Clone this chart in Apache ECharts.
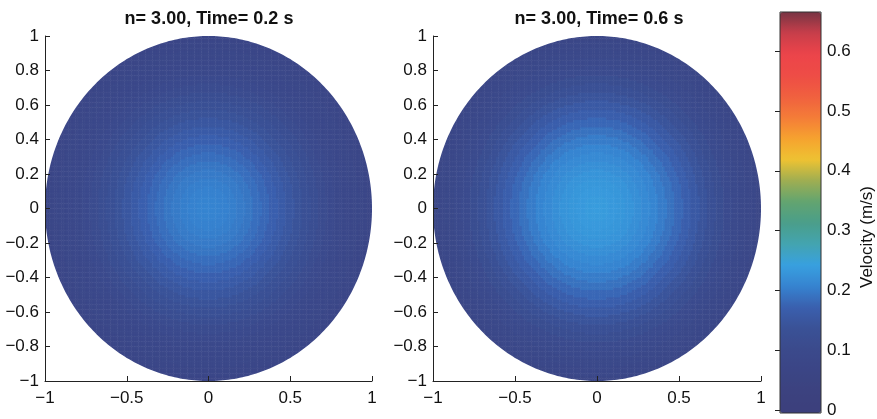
<!DOCTYPE html>
<html>
<head>
<meta charset="utf-8">
<script src="https://cdn.jsdelivr.net/npm/echarts@6/dist/echarts.min.js"></script>
<style>
  html, body { margin: 0; padding: 0; background: #fff; }
  #chart { width: 877px; height: 419px; }
</style>
</head>
<body>
<div id="chart"></div>
<script>
const RADII = [0, 0.05, 0.1, 0.15, 0.2, 0.25, 0.3, 0.35, 0.4, 0.45, 0.5,
               0.55, 0.6, 0.65, 0.7, 0.75, 0.8, 0.85, 0.9, 0.95, 1.0]
// velocity (m/s) along the radius, t = 0.2 s and t = 0.6 s
const VEL_T02 = [0.212, 0.211, 0.209, 0.206, 0.202, 0.197, 0.190, 0.183, 0.175, 0.165, 0.155,
                 0.145, 0.135, 0.125, 0.115, 0.107, 0.100, 0.094, 0.088, 0.083, 0.078]
const VEL_T06 = [0.240, 0.239, 0.237, 0.234, 0.230, 0.225, 0.219, 0.212, 0.203, 0.193, 0.183,
                 0.172, 0.160, 0.147, 0.135, 0.123, 0.112, 0.103, 0.095, 0.088, 0.082]
const TITLES = ['n= 3.00, Time= 0.2 s', 'n= 3.00, Time= 0.6 s']
const VEL_MAX = 0.665
// printed-jet colour scale, evenly spaced from 0 to VEL_MAX
const JET_COLORS = ['#3c3f7c', '#3c427f', '#3b4585', '#3b4a8c', '#3a5196', '#3a5fae', '#3683d0',
                    '#38a0df', '#43a4b0', '#4a9e8a', '#62a470', '#9eae52', '#eec232', '#f6a22f',
                    '#f47c38', '#f0603f', '#ee4c46', '#ec444a', '#c83e4a', '#783444']
const N = 140 // cells across the pipe section

const FONT = '"Liberation Sans", Arial, sans-serif'
const idx = Array.from({ length: N }, (_, i) => i)

// sample the cross-section: each cell takes the reading at its nearest radius
// (a little past the wall; the white mask below trims the edge smoothly)
function buildField(profile) {
  const cells = []
  const step = RADII[1] - RADII[0]
  const last = RADII.length - 1
  for (let i = 0; i < N; i++) {
    const x = -1 + (i + 0.5) * 2 / N
    for (let j = 0; j < N; j++) {
      const y = -1 + (j + 0.5) * 2 / N
      const r = Math.sqrt(x * x + y * y)
      if (r > 1 + 3 / N) continue
      cells.push([i, j, profile[Math.min(last, Math.round(r / step))]])
    }
  }
  return cells
}

const minus = v => String(v).replace('-', '\u2212')
const tickStyle = { inside: true, length: 5, lineStyle: { color: '#222' } }
const lineStyle = { lineStyle: { color: '#222', width: 1 } }
const labelStyle = { color: '#111', fontSize: 17, fontFamily: FONT }

const grids = [
  { left: 45, top: 36, width: 327, height: 345 },
  { left: 433, top: 36, width: 328, height: 345 },
  { left: 780, top: 12, width: 41, height: 401 },
]

const catAxis = g => ({ type: 'category', gridIndex: g, data: idx, show: false })
const valX = g => ({
  type: 'value', gridIndex: g, min: -1, max: 1, interval: 0.5, position: 'bottom',
  axisLine: lineStyle, axisTick: tickStyle, splitLine: { show: false },
  axisLabel: { ...labelStyle, margin: 9, formatter: minus },
  z: 5,
})
const valY = g => ({
  type: 'value', gridIndex: g, min: -1, max: 1, interval: 0.2, position: 'left',
  axisLine: lineStyle, axisTick: tickStyle, splitLine: { show: false },
  axisLabel: { ...labelStyle, margin: 6, formatter: v => minus(+v.toFixed(1)) },
  z: 5,
})

const fixedGraphics = [
  ...TITLES.map((t, k) => ({
    id: 'title' + k, type: 'text', x: k === 0 ? 209 : 599, y: 19,
    style: { text: t, font: `bold 18px ${FONT}`, fill: '#111', align: 'center', verticalAlign: 'middle' },
  })),
  {
    id: 'cbarFrame', type: 'rect', shape: { x: 780, y: 12, width: 41, height: 401 },
    style: { fill: 'none', stroke: '#333', lineWidth: 1 }, z: 100,
  },
  {
    id: 'cbarName', type: 'text', x: 867, y: 237, rotation: Math.PI / 2,
    style: { text: 'Velocity (m/s)', font: `17px ${FONT}`, fill: '#111', align: 'center', verticalAlign: 'middle' },
  },
]

const option = {
  backgroundColor: '#fff',
  animation: false,
  grid: grids,
  xAxis: [
    catAxis(0), valX(0), catAxis(1), valX(1),
    { type: 'value', gridIndex: 2, min: 0, max: 1, show: false },
  ],
  yAxis: [
    catAxis(0), valY(0), catAxis(1), valY(1),
    {
      type: 'value', gridIndex: 2, min: 0, max: VEL_MAX, interval: 0.1, position: 'right',
      axisLine: { show: false }, splitLine: { show: false },
      axisTick: { inside: true, length: 5, lineStyle: { color: '#222' } },
      axisLabel: {
        ...labelStyle, margin: 6, showMaxLabel: false,
        formatter: v => (Math.abs(v * 10 - Math.round(v * 10)) < 1e-6 ? String(+v.toFixed(1)) : ''),
      },
      z: 10,
    },
  ],
  visualMap: {
    type: 'continuous', min: 0, max: VEL_MAX, seriesIndex: [0, 1],
    calculable: false, realtime: false, hoverLink: false,
    orient: 'vertical', left: 780, top: 12, padding: 0,
    itemWidth: 41, itemHeight: 401, text: null,
    inRange: { color: JET_COLORS },
  },
  graphic: fixedGraphics,
  series: [
    {
      type: 'heatmap', xAxisIndex: 0, yAxisIndex: 0, data: buildField(VEL_T02),
      progressive: 0, emphasis: { disabled: true },
    },
    {
      type: 'heatmap', xAxisIndex: 2, yAxisIndex: 2, data: buildField(VEL_T06),
      progressive: 0, emphasis: { disabled: true },
    },
    { type: 'scatter', xAxisIndex: 4, yAxisIndex: 4, data: [] },
  ],
}

const chart = echarts.init(document.getElementById('chart'), null, { renderer: 'canvas' })
chart.setOption(option)

// white keyhole mask (frame with an elliptical hole), placed from the value axes' own scales
const masks = [1, 3].map((ax, k) => {
  const xl = chart.convertToPixel({ xAxisIndex: ax }, -1)
  const xr = chart.convertToPixel({ xAxisIndex: ax }, 1)
  const yt = chart.convertToPixel({ yAxisIndex: ax }, 1)
  const yb = chart.convertToPixel({ yAxisIndex: ax }, -1)
  const cx = (xl + xr) / 2, cy = (yt + yb) / 2
  const rx = (xr - xl) / 2, ry = (yb - yt) / 2
  const p = 4
  // outer frame, clockwise on screen, starting at the left middle
  const pts = [[xl - p, cy], [xl - p, yt - p], [xr + p, yt - p], [xr + p, yb + p], [xl - p, yb + p], [xl - p, cy]]
  // ellipse, the other way round (left -> bottom -> right -> top -> left)
  const segs = 360
  for (let s = 0; s <= segs; s++) {
    const a = Math.PI + (s / segs) * 2 * Math.PI
    pts.push([cx + rx * Math.cos(a), cy - ry * Math.sin(a)])
  }
  return { id: 'mask' + k, type: 'polygon', shape: { points: pts }, style: { fill: '#fff', stroke: null }, z: 3 }
})
chart.setOption({ graphic: [...fixedGraphics, ...masks] })
</script>
</body>
</html>
